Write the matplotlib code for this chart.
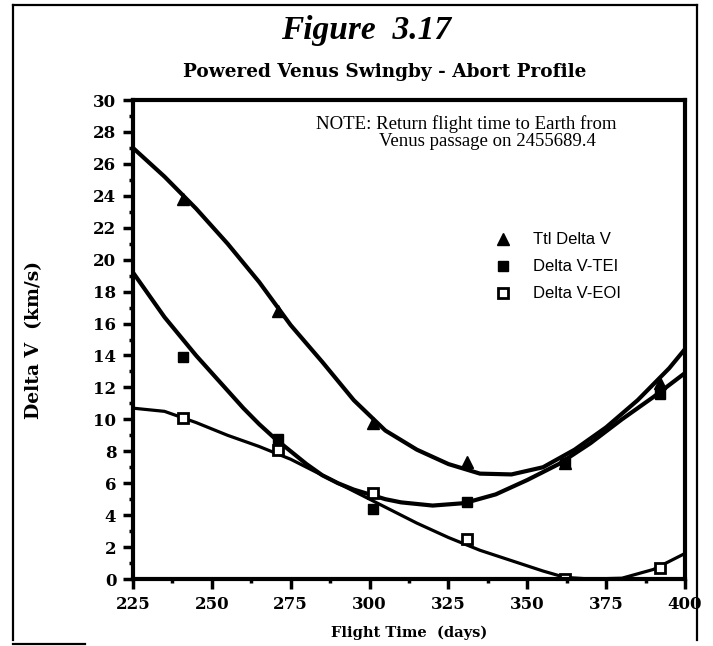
import matplotlib
matplotlib.use("Agg")
import matplotlib.pyplot as plt
from matplotlib.lines import Line2D
from matplotlib.ticker import MultipleLocator

# Measured points (flight time in days, delta V in km/s)
days = [241, 271, 301, 331, 362, 392]
ttl_dv = [23.8, 16.8, 9.8, 7.3, 7.25, 12.3]
tei_dv = [13.9, 8.8, 4.4, 4.8, 7.25, 11.6]
eoi_dv = [10.1, 8.1, 5.4, 2.5, 0.0, 0.7]

# Fitted curves through the points
ttl_fit_x = [225, 235, 245, 255, 265, 275, 285, 295, 305, 315, 325, 335, 345, 355, 365, 375, 385, 395, 400]
ttl_fit_y = [27.0, 25.2, 23.2, 21.0, 18.6, 15.9, 13.6, 11.2, 9.3, 8.1, 7.2, 6.6, 6.55, 7.0, 8.1, 9.5, 11.2, 13.2, 14.4]

tei_fit_x = [225, 230, 235, 240, 245, 250, 255, 260, 265, 270, 275, 280, 285, 290, 295, 300, 305, 310,
             320, 330, 340, 350, 360, 370, 380, 390, 400]
tei_fit_y = [19.2, 17.8, 16.4, 15.2, 14.0, 12.9, 11.8, 10.7, 9.7, 8.8, 8.0, 7.2, 6.5, 6.0, 5.6, 5.3, 5.0, 4.8,
             4.6, 4.75, 5.3, 6.2, 7.2, 8.5, 10.0, 11.4, 12.9]

eoi_fit_x = [225, 235, 245, 255, 265, 275, 285, 295, 305, 315, 325, 335, 345, 355, 362, 370, 380, 390, 400]
eoi_fit_y = [10.7, 10.5, 9.8, 9.0, 8.3, 7.5, 6.5, 5.5, 4.5, 3.5, 2.6, 1.8, 1.15, 0.5, 0.1, 0.0, 0.05, 0.6, 1.6]

x_ticks = [225, 250, 275, 300, 325, 350, 375, 400]
y_ticks = list(range(0, 31, 2))

heavy_serif = "DejaVu Serif"

fig = plt.figure(figsize=(7.13, 6.46), dpi=100)
ax = fig.add_axes([0.1865, 0.1037, 0.7742, 0.7415])

# curves
ax.plot(ttl_fit_x, ttl_fit_y, color="black", lw=3.0, solid_capstyle="butt")
ax.plot(tei_fit_x, tei_fit_y, color="black", lw=3.0, solid_capstyle="butt")
ax.plot(eoi_fit_x, eoi_fit_y, color="black", lw=2.3, solid_capstyle="butt")

# data markers
ax.plot(days, ttl_dv, ls="none", marker="^", ms=8.5, color="black", label="Ttl Delta V")
ax.plot(days, tei_dv, ls="none", marker="s", ms=7, mfc="black", mec="black", label="Delta V-TEI")
ax.plot(days, eoi_dv, ls="none", marker="s", ms=7, mfc="white", mec="black", mew=2, label="Delta V-EOI")

ax.set_xlim(225, 400)
ax.set_ylim(0, 30)
ax.set_xticks(x_ticks)
ax.set_yticks(y_ticks)
ax.xaxis.set_minor_locator(MultipleLocator(12.5))
ax.yaxis.set_minor_locator(MultipleLocator(1))
ax.tick_params(which="major", direction="out", length=7, width=2.5, pad=5)
ax.tick_params(which="minor", direction="out", length=3, width=2.5)
for lbl in ax.get_xticklabels() + ax.get_yticklabels():
    lbl.set_fontfamily(heavy_serif)
    lbl.set_fontweight("bold")
    lbl.set_fontsize(12)
for side in ["left", "right", "top", "bottom"]:
    ax.spines[side].set_linewidth(3)

ax.set_xlabel("Flight Time  (days)", fontfamily=heavy_serif, fontweight="bold", fontsize=10.5, labelpad=9)
ax.set_ylabel("Delta V  (km/s)", fontfamily=heavy_serif, fontweight="bold", fontsize=13.5, labelpad=36)

# note about the return leg
ax.text(0.603, 0.950, "NOTE: Return flight time to Earth from", transform=ax.transAxes,
        ha="center", va="center", fontfamily="Liberation Serif", fontsize=13.5)
ax.text(0.643, 0.914, "Venus passage on 2455689.4", transform=ax.transAxes,
        ha="center", va="center", fontfamily="Liberation Serif", fontsize=13.5)

leg = ax.legend(loc="upper left", bbox_to_anchor=(0.625, 0.755), frameon=False,
                prop={"family": "Liberation Sans", "size": 12}, handlelength=1.2,
                handletextpad=1.2, labelspacing=0.72)

fig.text(0.513, 0.953, "Figure  3.17", ha="center", va="center",
         fontfamily="Liberation Serif", fontstyle="italic", fontweight="bold", fontsize=24)
fig.text(0.54, 0.888, "Powered Venus Swingby - Abort Profile", ha="center", va="center",
         fontfamily=heavy_serif, fontweight="bold", fontsize=13.3)

# page frame round the figure
W, H = 713.0, 646.0
frame = [((13, 5), (13, 640)), ((13, 5), (697, 5)), ((697, 5), (697, 640)), ((13, 644), (85, 644))]
for (x0, y0), (x1, y1) in frame:
    fig.add_artist(Line2D([x0 / W, x1 / W], [1 - y0 / H, 1 - y1 / H],
                          transform=fig.transFigure, color="black", lw=1.6))

fig.savefig("out.png", dpi=100)
